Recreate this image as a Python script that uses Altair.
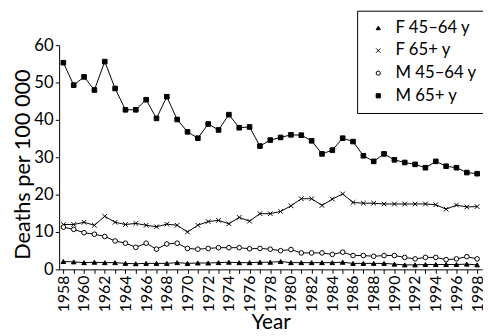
import altair as alt
import pandas as pd

years = list(range(1958, 1999))
series_names = ["F 45–64 y", "F 65+ y", "M 45–64 y", "M 65+ y"]

f45 = [2.1, 2.0, 1.8, 1.9, 1.8, 1.8, 1.6, 1.5, 1.6, 1.6, 1.6, 1.8, 1.6, 1.7, 1.7,
       1.8, 1.9, 1.8, 1.8, 1.9, 1.9, 2.1, 1.8, 1.8, 1.8, 1.8, 1.8, 1.9, 1.6, 1.6,
       1.6, 1.6, 1.4, 1.2, 1.2, 1.3, 1.3, 1.3, 1.3, 1.4, 1.2]
f65 = [12.0, 12.0, 12.6, 11.8, 14.2, 12.6, 12.0, 12.3, 11.8, 11.4, 12.1, 11.8, 10.0,
       11.8, 12.8, 13.1, 12.2, 13.9, 12.9, 14.9, 14.9, 15.5, 17.0, 18.9, 18.9, 17.1,
       18.8, 20.2, 17.9, 17.7, 17.7, 17.5, 17.5, 17.5, 17.5, 17.5, 17.3, 16.1, 17.2,
       16.7, 16.8]
m45 = [11.3, 10.7, 9.8, 9.4, 8.8, 7.6, 7.0, 5.9, 7.0, 5.4, 6.8, 7.0, 5.6, 5.4, 5.6,
       5.8, 5.8, 5.8, 5.5, 5.6, 5.4, 5.0, 5.3, 4.4, 4.4, 4.4, 4.0, 4.6, 3.7, 3.7,
       3.5, 3.7, 3.7, 3.2, 2.8, 3.2, 3.2, 2.6, 2.8, 3.4, 2.8]
m65 = [55.3, 49.3, 51.5, 48.0, 55.6, 48.4, 42.7, 42.7, 45.4, 40.4, 46.2, 40.1, 36.8,
       35.1, 38.9, 37.3, 41.4, 37.9, 38.1, 33.0, 34.6, 35.3, 36.0, 35.9, 34.4, 30.9,
       31.9, 35.1, 34.2, 30.4, 28.9, 30.9, 29.3, 28.6, 28.1, 27.2, 28.9, 27.6, 27.2,
       25.9, 25.6]
y_ticks = [0, 10, 20, 30, 40, 50, 60]

rows = []
for name, vals in zip(series_names, [f45, f65, m45, m65]):
    for yr, v in zip(years, vals):
        rows.append({"Year": yr, "series": name, "value": v})
df = pd.DataFrame(rows)

FONT = "Lato"
xpath = "M-1,-1L1,1M-1,1L1,-1"

x_enc = alt.X(
    "Year:Q",
    scale=alt.Scale(domain=[1957.59, 1998.47], nice=False, zero=False),
    axis=alt.Axis(
        values=years,
        format="d",
        labelExpr="datum.value % 2 == 0 ? datum.label : ''",
        labelAngle=270,
        labelOverlap=False,
        labelFontSize=16,
        labelPadding=2,
        tickSize=4,
        title="Year",
        titleFontSize=21,
        titleFontWeight="normal",
        titlePadding=0,
    ),
)
y_enc = alt.Y(
    "value:Q",
    scale=alt.Scale(domain=[0, 60], nice=False),
    axis=alt.Axis(
        values=y_ticks,
        labelFontSize=17,
        labelPadding=2,
        tickSize=4,
        title="Deaths per 100 000",
        titleFontSize=22,
        titleFontWeight="normal",
        titleX=-37,
        titleY=121,
        titleAngle=270,
        titleAlign="center",
        titleBaseline="middle",
    ),
)

legend = alt.Legend(
    title=None,
    orient="none",
    legendX=303,
    legendY=-35,
    strokeColor="black",
    fillColor="white",
    padding=9,
    labelFontSize=17,
    symbolSize=18,
    symbolStrokeWidth=1,
    symbolOffset=4,
    labelOffset=9,
    rowPadding=5,
)

base = alt.Chart(df)
lines = base.mark_line(color="black", strokeWidth=1).encode(
    x=x_enc, y=y_enc, detail="series:N"
)
points = base.mark_point(
    filled=True, strokeWidth=1, size=22, opacity=1
).encode(
    x=x_enc,
    y=y_enc,
    shape=alt.Shape(
        "series:N",
        scale=alt.Scale(domain=series_names, range=["triangle-up", xpath, "circle", "square"]),
        legend=legend,
    ),
    fill=alt.Fill(
        "series:N",
        scale=alt.Scale(domain=series_names, range=["black", "black", "white", "black"]),
        legend=legend,
    ),
    stroke=alt.Stroke(
        "series:N",
        scale=alt.Scale(domain=series_names, range=["black", "black", "black", "black"]),
        legend=legend,
    ),
)

chart = (
    alt.layer(lines, points)
    .properties(
        width=430,
        height=228,
        autosize=alt.AutoSizeParams(type="none"),
        padding={"left": 52, "top": 35, "right": 1, "bottom": 65},
    )
    .configure(font=FONT)
    .configure_view(stroke=None)
    .configure_axis(
        grid=False,
        domainColor="black",
        tickColor="black",
        labelColor="black",
        titleColor="black",
        labelFont=FONT,
        titleFont=FONT,
    )
    .configure_legend(labelFont=FONT, labelColor="black")
)

chart.save("out.html", embed_options={"renderer": "svg", "actions": False})
